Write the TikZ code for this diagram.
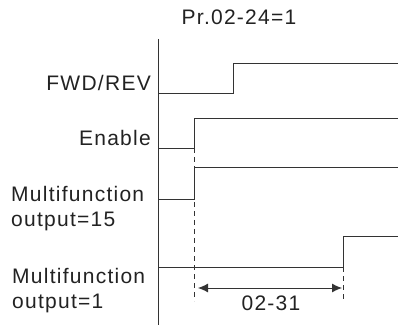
\documentclass[tikz,border=0pt]{standalone}
\usepackage{fontspec}
\setmainfont{Liberation Sans}[LetterSpace=6]
\usetikzlibrary{arrows.meta}
\definecolor{SigGray}{HTML}{333333}
\definecolor{TxtGray}{HTML}{222222}

\begin{document}
\begin{tikzpicture}[x=1pt,y=-1pt,line join=miter,
  font=\fontsize{21}{25}\selectfont,
  signal/.style={SigGray,line width=0.9pt},
  guide/.style={SigGray,line width=0.8pt,dash pattern=on 5pt off 4pt},
  lbl/.style={text=TxtGray,inner sep=0pt}]
  \useasboundingbox (0,0) rectangle (398,336);
  % time axis and the four signals
  \draw[signal] (158,39) -- (158,325);
  \draw[signal] (158,93) -- (233,93) -- (233,63) -- (398,63);
  \draw[signal] (158,148) -- (194,148) -- (194,118) -- (398,118);
  \draw[signal] (158,199) -- (194,199) -- (194,167) -- (398,167);
  \draw[signal] (158,267) -- (343,267) -- (343,236) -- (398,236);
  \node[lbl,anchor=base] (title) at (239,25) {Pr.02-24=1};
  \node[lbl,anchor=base east] (fwd) at (151,91) {FWD/REV};
  \node[lbl,anchor=base east] (en) at (151,146) {Enable};
  \node[lbl,anchor=base west,align=left] (mfa) at (11,227) {Multifunction\\output=15};
  \node[lbl,anchor=base west,align=left] (mfb) at (12,308) {Multifunction\\output=1};
  % delay 02-31
  \coordinate (ta) at (194,148);
  \coordinate (tb) at (343,267);
  \coordinate (ea) at (194,301);
  \coordinate (eb) at (343,301);
  \draw[guide] (ta) -- (ea);
  \draw[guide] (tb) -- (eb);
  \draw[{Latex[length=10pt,width=9pt]}-{Latex[length=10pt,width=9pt]},SigGray,line width=0.9pt]
    ([xshift=4pt]ea |- 0,288) -- ([xshift=-1pt]eb |- 0,288);
  \node[lbl,anchor=base] (delay) at (271,310) {02-31};
\end{tikzpicture}
\end{document}
